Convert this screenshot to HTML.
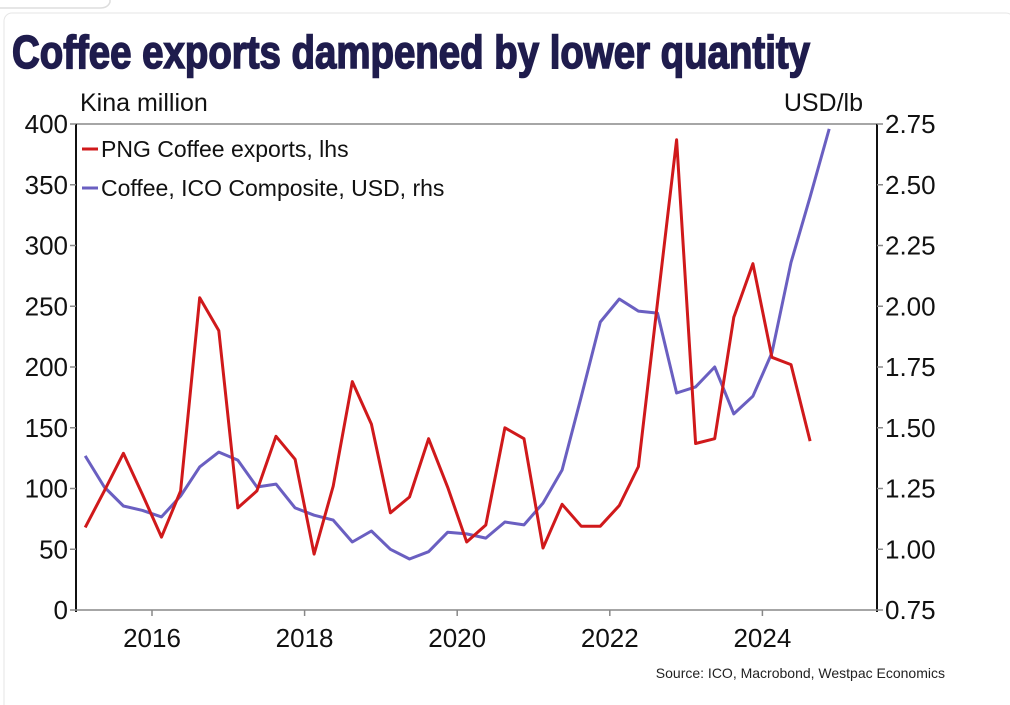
<!DOCTYPE html>
<html><head><meta charset="utf-8"><style>
html,body{margin:0;padding:0;background:#fff;width:1010px;height:705px;overflow:hidden}
svg{display:block}
text{font-family:"Liberation Sans",sans-serif}
</style></head><body>
<svg id="chart" width="1010" height="705" viewBox="0 0 1010 705" xmlns="http://www.w3.org/2000/svg">
<rect x="0" y="0" width="1010" height="705" fill="#fff"/>
<path d="M0 8 H100 Q108 8 110 2 V0" fill="none" stroke="#ddd" stroke-width="1.5"/>
<rect x="4" y="13" width="1010" height="700" rx="8" fill="none" stroke="#e6e6e6"/>
<text x="12" y="68" font-family="'Liberation Sans Narrow','Liberation Sans',sans-serif" font-weight="bold" font-size="46" fill="#1f1c4d" stroke="#1f1c4d" stroke-width="1.6" textLength="798" lengthAdjust="spacingAndGlyphs">Coffee exports dampened by lower quantity</text>
<text x="80" y="111" font-size="25" fill="#111">Kina million</text>
<text x="863" y="111" font-size="25" fill="#111" text-anchor="end">USD/lb</text>
<g id="axes"></g>
<g id="series"></g>
<line x1="82" y1="149" x2="98" y2="149" stroke="#d0191b" stroke-width="3"/>
<text x="101" y="157" font-size="23" fill="#111">PNG Coffee exports, lhs</text>
<line x1="82" y1="188" x2="98" y2="188" stroke="#6a5fc1" stroke-width="3"/>
<text x="101" y="196" font-size="23" fill="#111">Coffee, ICO Composite, USD, rhs</text>
<text x="945" y="678" font-size="14" fill="#222" text-anchor="end">Source: ICO, Macrobond, Westpac Economics</text>
</svg>
<script>
const startYear = 2015.125;
const exports = [68,98,129,95,60,98,257,230,84,98,143,124,46,102,188,153,80,93,141,101,56,70,150,141,51,87,69,69,86,118,253,387,137,141,241,285,208,202,139];
const ico = [1.384,1.256,1.178,1.16,1.133,1.219,1.339,1.40,1.367,1.256,1.268,1.17,1.14,1.12,1.03,1.075,1.0,0.96,0.99,1.07,1.063,1.046,1.112,1.10,1.19,1.326,1.627,1.935,2.03,1.98,1.972,1.643,1.668,1.75,1.557,1.63,1.808,2.18,2.45,2.73];
const leftTicks = [0,50,100,150,200,250,300,350,400];
const rightTicks = ["0.75","1.00","1.25","1.50","1.75","2.00","2.25","2.50","2.75"];
const yearTicks = [2016,2018,2020,2022,2024];

const L=76,R=877,T=124,B=610;
const xs = t => 152 + (t-2016)*76.3;
const yl = v => B - (v/400)*(B-T);
const yr = v => B - ((v-0.75)/2)*(B-T);
const NS="http://www.w3.org/2000/svg";
function mk(tag,attrs,parent,txt){const e=document.createElementNS(NS,tag);for(const k in attrs)e.setAttribute(k,attrs[k]);if(txt!==undefined)e.textContent=txt;parent.appendChild(e);return e;}
const ax=document.getElementById('axes'), se=document.getElementById('series');

let f=mk('line',{x1:L,y1:T,x2:R,y2:T,stroke:'#888','stroke-width':1.5},ax);


f=mk('line',{x1:L,y1:T,x2:L,y2:B+2,stroke:'#111','stroke-width':2},ax);


f=mk('line',{x1:R,y1:T,x2:R,y2:B+2,stroke:'#111','stroke-width':2},ax);


f=mk('line',{x1:L,y1:B,x2:R,y2:B,stroke:'#888','stroke-width':1.5},ax);



leftTicks.forEach(v=>{
  const y=yl(v);
  const tk=mk('line',{x1:L-6,y1:y,x2:L,y2:y,stroke:'#888','stroke-width':1.5},ax);
  
  
  const t=mk('text',{x:L-8,y:y+9,'font-size':26,'text-anchor':'end',fill:'#111'},ax,String(v));
  
  
});
rightTicks.forEach(s=>{
  const y=yr(parseFloat(s));
  const tk=mk('line',{x1:R,y1:y,x2:R+6,y2:y,stroke:'#888','stroke-width':1.5},ax);
  
  
  const t=mk('text',{x:R+8,y:y+9,'font-size':26,fill:'#111'},ax,s);
  
  
});
yearTicks.forEach(yv=>{
  const x=xs(yv);
  const tk=mk('line',{x1:x,y1:B,x2:x,y2:B+6,stroke:'#888','stroke-width':1.5},ax);
  
  
  const t=mk('text',{x:x,y:B+37,'font-size':26,'text-anchor':'middle',fill:'#111'},ax,String(yv));
  
  
});

const p1=ico.map((v,i)=>xs(startYear+i*0.25).toFixed(1)+','+yr(v).toFixed(1)).join(' ');
const l1=mk('polyline',{points:p1,fill:'none',stroke:'#6a5fc1','stroke-width':3,'stroke-linejoin':'round'},se);


const p2=exports.map((v,i)=>xs(startYear+i*0.25).toFixed(1)+','+yl(v).toFixed(1)).join(' ');
const l2=mk('polyline',{points:p2,fill:'none',stroke:'#d0191b','stroke-width':3,'stroke-linejoin':'round'},se);


</script>
</body></html>
